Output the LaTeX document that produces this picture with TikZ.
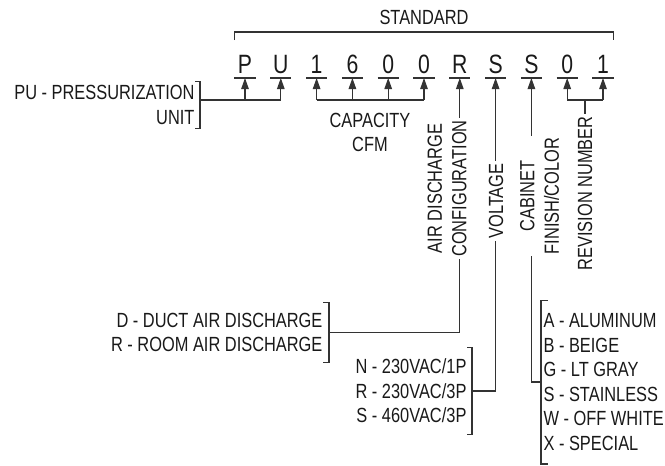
\documentclass[tikz,border=0pt]{standalone}
\usepackage{fontspec}
\setmainfont{Liberation Sans}[FakeStretch=0.8]
\usetikzlibrary{arrows.meta}
\colorlet{cline}{black!80}
\colorlet{ctext}{black!90}
\tikzset{
  every picture/.style={line width=1.1pt},
  txt/.style={font=\fontsize{20.5}{24.5}\selectfont, text=ctext, inner sep=0pt},
  letter/.style={font=\fontsize{26.5}{28}\selectfont, text=ctext, anchor=south,
    minimum width=20pt, inner xsep=0pt, inner ysep=4pt, text depth=0pt},
  wire/.style={draw=cline},
  arrow/.style={wire, -{Triangle[length=11pt, width=7.5pt]}},
  brk/.style={draw=cline},
  tag/.style={txt, rotate=90, align=center, fill=white, inner xsep=2pt, inner ysep=0pt},
}

\begin{document}
\begin{tikzpicture}[x=1pt, y=-1pt]
  \useasboundingbox (0,0) rectangle (665,466);
  \coordinate (bus) at (0,100);

  % model code letters
  \foreach \ch [count=\i] in {P,U,1,6,0,0,R,S,S,0,1} {
    \node[letter] (c\i) at ({245+(\i-1)*35.8},78) {\ch};
    \draw[brk] (c\i.south west) -- (c\i.south east);
  }
  \node[txt] (std) at (424,17) {STANDARD};
  \draw[brk] (c1.west |- 0,40) |- (c11.east |- 0,32) -- (c11.east |- 0,40);

  % unit type
  \node[txt, align=right, anchor=east, inner ysep=3pt] (pu) at (195,105) {PU - PRESSURIZATION\\UNIT};
  \draw[brk] (pu.north east) -| ([xshift=5pt]pu.south east) coordinate (pub) -- (pu.south east);
  \draw[wire] (pub |- bus) -- (c2.south |- bus);

  % capacity
  \draw[wire] (c3.south |- bus) -- (c6.south |- bus);
  \node[txt, align=center] (cap) at (370,132.5) {CAPACITY\\CFM};

  % revision
  \draw[wire] (c10.south |- bus) -- (c11.south |- bus);
  \foreach \i in {1,2,3,4,5,6,10,11}
    \draw[arrow] (c\i.south |- bus) -- (c\i.south);

  % option lists
  \node[txt, align=right, anchor=east, inner ysep=10pt] (air) at (323,332.5)
    {D - DUCT AIR DISCHARGE\\R - ROOM AIR DISCHARGE};
  \draw[brk] (air.north east) -| ([xshift=6pt]air.south east) coordinate (airb) -- (air.south east);
  \node[txt, align=right, anchor=east, inner ysep=11pt] (vlt) at (467,391)
    {N - 230VAC/1P\\R - 230VAC/3P\\S - 460VAC/3P};
  \draw[brk] (vlt.north east) -| ([xshift=5pt]vlt.south east) coordinate (vltb) -- (vlt.south east);
  \node[txt, align=left, anchor=west, inner ysep=13pt] (col) at (543,382)
    {A - ALUMINUM\\B - BEIGE\\G - LT GRAY\\S - STAINLESS\\W - OFF WHITE\\X - SPECIAL};
  \draw[brk] ([xshift=5pt]col.north west) -| ([xshift=-2pt]col.south west) coordinate (colb) -- ([xshift=5pt]col.south west);

  \draw[arrow] (airb |- air.east) -| (c7.south);
  \draw[arrow] (vltb |- vlt.east) -| (c8.south);
  \draw[arrow] (colb |- col.west) -| (c9.south);

  % field names on the lines
  \node[tag] (cfg) at (447,188.5) {AIR DISCHARGE\\CONFIGURATION};
  \node[tag] (vtag) at (496,201) {VOLTAGE};
  \node[tag] (cab) at (539.5,196) {CABINET\\FINISH/COLOR};
  \node[tag, fill=none] (rev) at (585,193.5) {REVISION NUMBER};
  \draw[wire] (rev.east) -- (rev.east |- bus);
\end{tikzpicture}
\end{document}
